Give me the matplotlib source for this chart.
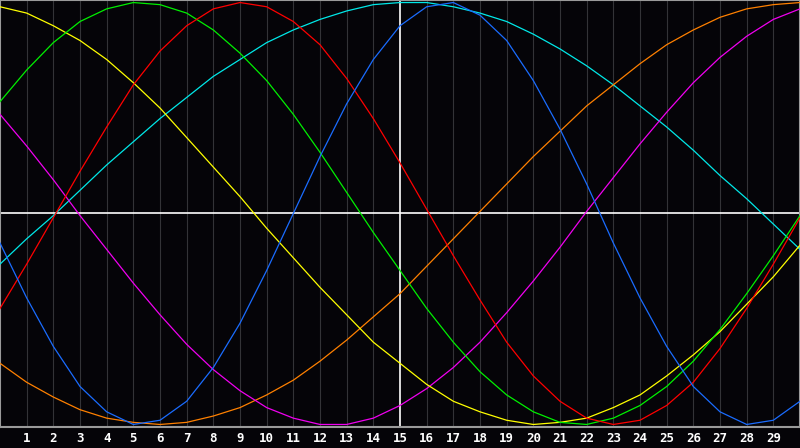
## biorhythm style chart, 7 cycles over 30 days
import numpy as np
import matplotlib
matplotlib.use("Agg")
import matplotlib.pyplot as plt

days = list(range(31))
tick_labels = [str(d) for d in range(1, 30)]

## values (-1 .. 1)
physical = [-0.14,-0.40,-0.63,-0.82,-0.94,-1.00,-0.98,-0.89,-0.73,-0.52,-0.27,0.00,0.27,0.52,0.73,0.89,
            0.98,1.00,0.94,0.82,0.63,0.40,0.14,-0.14,-0.40,-0.63,-0.82,-0.94,-1.00,-0.98,-0.89]
emotional = [-0.45,-0.24,-0.02,0.20,0.41,0.61,0.77,0.89,0.97,1.00,0.98,0.91,0.80,0.64,0.45,0.24,
             0.02,-0.20,-0.41,-0.61,-0.77,-0.89,-0.97,-1.00,-0.98,-0.91,-0.80,-0.64,-0.45,-0.24,-0.02]
intellectual = [0.53,0.68,0.81,0.91,0.97,1.00,0.99,0.95,0.87,0.76,0.63,0.47,0.29,0.10,-0.09,-0.27,
                -0.45,-0.61,-0.75,-0.86,-0.94,-0.99,-1.00,-0.97,-0.91,-0.82,-0.70,-0.55,-0.38,-0.20,-0.01]
intuitive = [0.47,0.32,0.16,-0.01,-0.17,-0.33,-0.48,-0.62,-0.74,-0.84,-0.92,-0.97,-1.00,-1.00,-0.97,-0.91,
             -0.83,-0.73,-0.61,-0.47,-0.32,-0.16,0.01,0.17,0.33,0.48,0.62,0.74,0.84,0.92,0.97]
aesthetic = [0.98,0.95,0.89,0.82,0.73,0.62,0.50,0.36,0.22,0.08,-0.07,-0.21,-0.35,-0.48,-0.61,-0.71,
             -0.81,-0.89,-0.94,-0.98,-1.00,-0.99,-0.97,-0.92,-0.86,-0.77,-0.67,-0.56,-0.43,-0.30,-0.15]
awareness = [-0.71,-0.80,-0.87,-0.93,-0.97,-0.99,-1.00,-0.99,-0.96,-0.92,-0.86,-0.79,-0.70,-0.60,-0.49,-0.38,
             -0.25,-0.12,0.01,0.14,0.27,0.39,0.51,0.61,0.71,0.80,0.87,0.93,0.97,0.99,1.00]
spiritual = [-0.24,-0.12,-0.01,0.11,0.23,0.34,0.45,0.55,0.65,0.73,0.81,0.87,0.92,0.96,0.99,1.00,
             1.00,0.98,0.95,0.91,0.85,0.78,0.70,0.61,0.51,0.41,0.30,0.18,0.07,-0.05,-0.17]

series = [
    (spiritual, "#00e8e8"),
    (awareness, "#ff8000"),
    (intuitive, "#f000f0"),
    (aesthetic, "#ffff00"),
    (intellectual, "#00f000"),
    (emotional, "#ff0000"),
    (physical, "#1a6cff"),
]

bg = "#050408"
fig = plt.figure(figsize=(8, 4.48), dpi=100)
fig.patch.set_facecolor(bg)
ax = fig.add_axes([0, 21 / 448, 1, 427 / 448])
ax.set_facecolor(bg)

## grid
for d in range(1, 30):
    if d != 15:
        ax.axvline(d, color="#333337", lw=0.8, zorder=1)
ax.axvline(15, color="white", lw=1.2, zorder=2)
ax.axhline(0, color="white", lw=1.2, zorder=2)

for vals, col in series:
    ax.plot(days, vals, color=col, lw=0.9, zorder=3)

ax.set_xlim(0, 30)
ax.set_ylim(-1.012, 1.012)
ax.set_yticks([])
ax.set_xticks(range(1, 30))
ax.set_xticklabels(tick_labels, color="white", fontsize=9, fontweight="bold",
                   family="DejaVu Sans Mono")
ax.tick_params(axis="x", length=0, pad=3.5)
for s in ax.spines.values():
    s.set_color("#9a9a9a")
    s.set_linewidth(1.5)

fig.savefig("out.png", dpi=100, facecolor=bg)
